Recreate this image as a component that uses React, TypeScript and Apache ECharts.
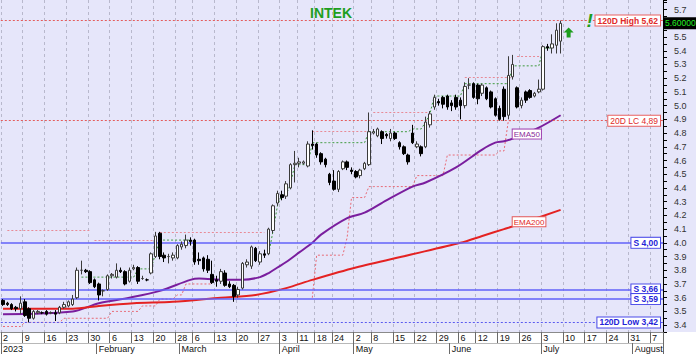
import React, { useEffect, useRef } from 'react';
import * as echarts from 'echarts';

// ---------- calendar ----------
const FIRST_DAY = '2023-01-02';
const LAST_DAY = '2023-08-09';
const CLOSED_DAYS = ['2023-02-27', '2023-04-07', '2023-04-10', '2023-04-17', '2023-05-01', '2023-06-05'];
const MONTH_NAMES = ['January', 'February', 'March', 'April', 'May', 'June', 'July', 'August', 'September', 'October', 'November', 'December'];
const YEAR_LABEL = '2023';
const TITLE = 'INTEK';

// ---------- prices: [open, close, low, high] per trading day ----------
const CANDLES: number[][] = [
  [3.58, 3.55, 3.54, 3.59], [3.56, 3.55, 3.54, 3.57], [3.55, 3.52, 3.51, 3.56], [3.53, 3.52, 3.50, 3.54], [3.52, 3.56, 3.48, 3.61],
  [3.57, 3.47, 3.46, 3.59], [3.52, 3.45, 3.42, 3.53], [3.45, 3.50, 3.44, 3.51], [3.49, 3.50, 3.48, 3.51], [3.49, 3.49, 3.48, 3.50],
  [3.50, 3.48, 3.47, 3.51], [3.49, 3.49, 3.48, 3.50], [3.49, 3.48, 3.43, 3.51], [3.49, 3.53, 3.48, 3.54], [3.53, 3.55, 3.52, 3.57],
  [3.54, 3.57, 3.53, 3.58], [3.55, 3.59, 3.54, 3.62], [3.60, 3.80, 3.59, 3.82], [3.80, 3.80, 3.77, 3.87], [3.80, 3.79, 3.78, 3.81],
  [3.79, 3.71, 3.70, 3.80], [3.73, 3.68, 3.67, 3.74], [3.70, 3.62, 3.58, 3.71], [3.65, 3.65, 3.61, 3.66], [3.66, 3.76, 3.65, 3.77],
  [3.76, 3.77, 3.74, 3.78], [3.75, 3.80, 3.74, 3.85], [3.80, 3.79, 3.78, 3.82], [3.79, 3.70, 3.69, 3.80], [3.72, 3.80, 3.71, 3.82],
  [3.81, 3.82, 3.80, 3.84], [3.82, 3.72, 3.70, 3.83], [3.74, 3.74, 3.73, 3.76], [3.73, 3.73, 3.72, 3.74], [3.78, 3.92, 3.77, 3.93],
  [3.90, 4.05, 3.89, 4.08], [4.07, 3.90, 3.88, 4.08], [3.91, 3.89, 3.86, 3.93], [3.90, 3.90, 3.85, 3.92], [3.89, 3.91, 3.87, 3.93],
  [3.89, 3.98, 3.88, 3.99], [3.97, 3.99, 3.95, 4.01], [3.98, 4.02, 3.96, 4.06], [4.02, 4.01, 3.98, 4.04],
  [4.02, 3.86, 3.84, 4.03], [3.88, 3.87, 3.84, 3.93], [3.89, 3.81, 3.79, 3.90], [3.88, 3.80, 3.78, 3.91], [3.77, 3.71, 3.70, 3.87],
  [3.73, 3.72, 3.68, 3.76], [3.72, 3.79, 3.70, 3.81], [3.78, 3.69, 3.68, 3.80], [3.70, 3.68, 3.67, 3.72], [3.69, 3.61, 3.57, 3.70],
  [3.62, 3.66, 3.60, 3.68], [3.67, 3.85, 3.66, 3.86], [3.84, 3.86, 3.82, 3.88], [3.83, 3.97, 3.81, 3.98], [3.96, 3.87, 3.86, 3.97],
  [3.86, 3.92, 3.84, 3.94], [3.92, 3.91, 3.89, 3.95], [3.92, 4.10, 3.91, 4.11], [4.09, 4.27, 4.07, 4.28], [4.29, 4.36, 4.27, 4.38],
  [4.35, 4.33, 4.31, 4.38], [4.34, 4.43, 4.32, 4.45], [4.40, 4.57, 4.39, 4.58], [4.57, 4.58, 4.44, 4.67],
  [4.58, 4.59, 4.55, 4.62], [4.58, 4.59, 4.57, 4.60], [4.56, 4.72, 4.55, 4.74], [4.72, 4.71, 4.68, 4.82],
  [4.72, 4.64, 4.62, 4.73], [4.65, 4.59, 4.57, 4.66], [4.61, 4.57, 4.55, 4.62], [4.50, 4.44, 4.42, 4.51],
  [4.45, 4.39, 4.38, 4.53], [4.39, 4.52, 4.37, 4.53], [4.54, 4.59, 4.53, 4.60], [4.59, 4.55, 4.53, 4.60], [4.53, 4.52, 4.50, 4.55],
  [4.52, 4.48, 4.47, 4.53], [4.49, 4.53, 4.47, 4.54], [4.54, 4.58, 4.53, 4.59], [4.57, 4.81, 4.56, 4.95],
  [4.80, 4.81, 4.79, 4.83], [4.78, 4.83, 4.77, 4.84], [4.81, 4.76, 4.72, 4.82], [4.79, 4.78, 4.76, 4.80], [4.76, 4.80, 4.74, 4.83],
  [4.80, 4.76, 4.75, 4.81], [4.73, 4.70, 4.68, 4.74], [4.70, 4.65, 4.64, 4.71], [4.64, 4.59, 4.57, 4.65], [4.80, 4.73, 4.72, 4.86],
  [4.70, 4.72, 4.69, 4.74], [4.70, 4.65, 4.63, 4.71], [4.70, 4.88, 4.69, 4.92], [4.86, 4.94, 4.84, 4.96], [4.99, 5.06, 4.97, 5.08],
  [5.03, 5.02, 5.00, 5.05], [5.06, 5.01, 4.98, 5.07], [5.07, 4.99, 4.97, 5.08], [5.02, 5.00, 4.96, 5.04], [5.06, 4.99, 4.97, 5.08],
  [5.04, 5.00, 4.90, 5.06], [5.00, 5.14, 4.98, 5.17], [5.15, 5.15, 5.12, 5.20], [5.16, 5.06, 5.05, 5.17],
  [5.15, 5.05, 5.01, 5.16], [5.09, 5.15, 5.07, 5.16], [5.13, 5.05, 5.04, 5.14], [5.10, 4.99, 4.98, 5.11], [5.05, 4.93, 4.92, 5.06],
  [4.98, 4.90, 4.89, 5.00], [5.12, 4.92, 4.89, 5.14], [4.93, 5.22, 4.90, 5.36], [5.21, 5.30, 5.19, 5.37], [5.13, 4.99, 4.98, 5.14],
  [5.00, 5.04, 4.98, 5.06], [5.10, 5.04, 5.02, 5.11], [5.11, 5.06, 5.05, 5.12], [5.07, 5.09, 5.06, 5.10], [5.10, 5.12, 5.09, 5.19],
  [5.12, 5.43, 5.11, 5.44], [5.43, 5.42, 5.40, 5.45], [5.42, 5.45, 5.38, 5.52], [5.44, 5.55, 5.38, 5.60], [5.47, 5.60, 5.38, 5.62],
];

// ---------- moving averages: [day index, value] ----------
const EMA50_POINTS: number[][] = [
  [0, 3.48], [16, 3.50], [22, 3.56], [29, 3.60], [36, 3.65], [43, 3.73], [45, 3.74], [51, 3.73], [55, 3.73], [59, 3.75],
  [61, 3.78], [63, 3.82], [65, 3.86], [68, 3.93], [71, 4.00], [73, 4.06], [79, 4.18], [83, 4.22], [88, 4.31], [94, 4.41],
  [97, 4.44], [104, 4.55], [110, 4.68], [113, 4.73], [115, 4.74], [117, 4.76], [123, 4.84], [128, 4.93],
];
const EMA200_POINTS: number[][] = [
  [0, 3.52], [16, 3.52], [22, 3.54], [30, 3.56], [39, 3.57], [50, 3.60], [58, 3.62], [65, 3.67], [71, 3.73], [81, 3.82],
  [93, 3.91], [105, 4.00], [110, 4.05], [115, 4.10], [117, 4.12], [128, 4.24],
];
const EMA_LABEL_INDEX = 117;

// ---------- trailing lines: [from index, to index, value] ----------
const TRAIL_STOP_SEGMENTS: number[][] = [
  [0, 4, 3.39], [5, 13, 3.42], [14, 24, 3.45], [25, 31, 3.50], [32, 35, 3.54], [36, 39, 3.59], [40, 41, 3.62], [42, 48, 3.70],
  [71, 71, 3.60], [72, 78, 3.91], [79, 79, 4.04], [80, 83, 4.33], [84, 94, 4.41], [95, 101, 4.49], [102, 113, 4.64],
  [114, 115, 4.67], [116, 117, 4.89],
];
const TRAIL_HIGH_SEGMENTS: number[][] = [
  [18, 30, 3.75], [31, 34, 3.81], [35, 35, 3.92], [36, 43, 4.02],
  [61, 61, 3.92], [62, 62, 4.09], [63, 63, 4.27], [64, 65, 4.35], [66, 66, 4.43], [67, 70, 4.57], [71, 83, 4.73],
  [84, 93, 4.81], [94, 96, 4.83], [97, 97, 4.88], [98, 98, 4.94], [99, 105, 5.07], [106, 116, 5.16], [117, 123, 5.29],
  [124, 126, 5.42],
];
const RESISTANCE_SEGMENTS: number[][] = [
  [1, 20, 4.09], [21, 35, 4.02], [36, 60, 4.08], [71, 84, 4.81], [85, 98, 4.95], [106, 117, 5.21], [118, 124, 5.36],
];

// ---------- horizontal levels ----------
const LEVEL_VALUES = [5.62, 4.89, 4.0, 3.66, 3.59, 3.42];
const LEVEL_LABELS = ['120D High 5,62', '20D LC 4,89', 'S 4,00', 'S 3,66', 'S 3,59', '120D Low 3,42'];
const LEVEL_KINDS = ['high', 'lc', 'support', 'support', 'support', 'low'];
const LAST_PRICE = 5.6;
const LAST_PRICE_TEXT = '5.60000';
const Y_MIN = 3.35;
const Y_MAX = 5.77;

const FONT = 'Liberation Sans, Arial, sans-serif';
const GREEN = '#1E9E1E';

const LEVEL_STYLE: Record<string, any> = {
  high: { line: '#E45C5C', type: [2, 2], width: 1, text: '#E02828', border: '#E86060', weight: 'bold' },
  lc: { line: '#E45C5C', type: [2, 2], width: 1, text: '#E02828', border: '#E86060', weight: 'normal' },
  support: { line: '#6262F8', type: 'solid', width: 1.5, text: '#2424D8', border: '#4848E8', weight: 'bold' },
  low: { line: '#5A5AF0', type: [2, 2], width: 1.2, text: '#2424D8', border: '#4848E8', weight: 'bold' },
};

function buildDays(): string[] {
  const out: string[] = [];
  const d = new Date(FIRST_DAY + 'T00:00:00Z');
  const end = new Date(LAST_DAY + 'T00:00:00Z');
  while (d.getTime() <= end.getTime()) {
    const wd = d.getUTCDay();
    const s = d.toISOString().slice(0, 10);
    if (wd !== 0 && wd !== 6 && CLOSED_DAYS.indexOf(s) < 0) out.push(s);
    d.setUTCDate(d.getUTCDate() + 1);
  }
  return out;
}

export default function App() {
  const ref = useRef<HTMLDivElement>(null);

  useEffect(() => {
    document.body.style.margin = '0';
    const el = ref.current;
    if (!el) return;
    const chart = echarts.init(el, undefined, { renderer: 'svg' });
    const days = buildDays();
    const N = days.length;
    const wd = days.map((d) => new Date(d + 'T00:00:00Z').getUTCDay());
    const weekStart = days.map((_, i) => i === 0 || wd[i] <= wd[i - 1]);
    const monthStart = days.map((d, i) => i === 0 || d.slice(5, 7) !== days[i - 1].slice(5, 7));

    const segArray = (segs: number[][]) => {
      const a: (number | null)[] = new Array(N).fill(null);
      segs.forEach(([s, e, v]) => {
        for (let i = s; i <= e; i++) a[i] = v;
      });
      return a;
    };
    const pts = (p: number[][]) => p.map(([i, v]) => [days[i], v]);

    const levelSeries = LEVEL_VALUES.map((v, k) => {
      const st = LEVEL_STYLE[LEVEL_KINDS[k]];
      return {
        type: 'line',
        name: LEVEL_LABELS[k],
        data: [],
        z: 2,
        markLine: {
          silent: true,
          symbol: ['none', 'none'],
          label: { show: false },
          animation: false,
          lineStyle: { color: st.line, type: st.type, width: st.width, opacity: 1 },
          data: [{ yAxis: v }],
        },
      };
    });
    const resData: any[] = RESISTANCE_SEGMENTS.map(([s, e, v]) => [{ coord: [days[s], v] }, { coord: [days[e], v] }]);

    const option: any = {
      animation: false,
      grid: { left: 0, right: 33, top: 0, bottom: 22 },
      xAxis: [
        {
          type: 'category',
          data: days,
          boundaryGap: true,
          position: 'bottom',
          axisLine: { show: true, lineStyle: { color: '#8A8A8A', width: 1 } },
          axisTick: { show: true, interval: (i: number) => weekStart[i], length: 11, lineStyle: { color: '#6A6A6A' } },
          axisLabel: {
            interval: (i: number) => weekStart[i],
            formatter: (v: string) => String(Number(v.slice(8, 10))),
            align: 'left',
            margin: 1,
            fontSize: 9,
            color: '#111',
            fontFamily: FONT,
          },
          splitLine: {
            show: true,
            interval: (i: number) => weekStart[i],
            lineStyle: { color: '#B8B8CC', type: [3, 3], width: 1 },
          },
        },
        {
          type: 'category',
          data: days,
          boundaryGap: true,
          position: 'bottom',
          offset: 11,
          axisLine: { show: true, lineStyle: { color: '#B8B8B8', width: 1 } },
          axisTick: { show: true, interval: (i: number) => monthStart[i], length: 11, lineStyle: { color: '#6A6A6A' } },
          axisLabel: {
            interval: (i: number) => monthStart[i],
            formatter: (v: string, i: number) => (i === 0 ? YEAR_LABEL : MONTH_NAMES[Number(v.slice(5, 7)) - 1]),
            align: 'left',
            margin: 1,
            fontSize: 9,
            color: '#111',
            fontFamily: FONT,
          },
          splitLine: { show: false },
        },
      ],
      yAxis: {
        type: 'value',
        position: 'right',
        min: Y_MIN,
        max: Y_MAX,
        interval: 0.05,
        axisLine: { show: true, lineStyle: { color: '#000' } },
        axisTick: { show: true, length: 4, lineStyle: { color: '#000' } },
        axisLabel: {
          formatter: (v: number) => {
            const k = Math.round(v * 100);
            if (k % 10 !== 0 || k === Math.round(LAST_PRICE * 100)) return '';
            return v.toFixed(1);
          },
          margin: 11,
          fontSize: 9,
          color: '#333',
          fontFamily: FONT,
        },
        splitLine: { show: false },
      },
      series: [
        ...levelSeries,
        {
          type: 'line',
          name: 'Resistance',
          data: [],
          z: 2,
          markLine: {
            silent: true,
            symbol: ['none', 'none'],
            label: { show: false },
            animation: false,
            lineStyle: { color: '#E88A96', type: [2, 2], width: 1, opacity: 1 },
            data: resData,
          },
        },
        {
          type: 'candlestick',
          name: TITLE,
          data: CANDLES,
          barWidth: 3,
          z: 5,
          itemStyle: { color: '#FFFFFF', color0: '#000000', borderColor: '#3A3A3A', borderColor0: '#000000', borderWidth: 1 },
        },
        {
          type: 'line',
          name: 'TrailStop',
          data: segArray(TRAIL_STOP_SEGMENTS),
          showSymbol: false,
          connectNulls: false,
          lineStyle: { color: '#E86A76', width: 1, type: [2, 2] },
          z: 3,
        },
        {
          type: 'line',
          name: 'TrailHigh',
          data: segArray(TRAIL_HIGH_SEGMENTS),
          showSymbol: false,
          connectNulls: false,
          lineStyle: { color: '#3E9A3E', width: 1, type: [2, 2] },
          z: 3,
        },
        {
          type: 'line',
          name: 'EMA50',
          data: pts(EMA50_POINTS),
          showSymbol: false,
          smooth: 0.3,
          lineStyle: { color: '#7A1E9E', width: 2 },
          z: 4,
        },
        {
          type: 'line',
          name: 'EMA200',
          data: pts(EMA200_POINTS),
          showSymbol: false,
          smooth: 0.3,
          lineStyle: { color: '#E42222', width: 2 },
          z: 4,
        },
      ],
    };
    chart.setOption(option);

    const px = (i: number) => chart.convertToPixel({ xAxisIndex: 0 }, days[i]) as unknown as number;
    const py = (v: number) => chart.convertToPixel({ yAxisIndex: 0 }, v) as unknown as number;
    const emaAt = (p: number[][], idx: number) => {
      const f = p.find((q) => q[0] === idx);
      return f ? f[1] : p[p.length - 1][1];
    };
    const lastIdx = CANDLES.length - 1;
    const graphics: any[] = [];
    graphics.push({
      type: 'text', x: 331, y: 13, z: 100,
      style: { text: TITLE, fill: GREEN, fontSize: 14, fontWeight: 'bold', fontFamily: FONT, align: 'center', verticalAlign: 'middle' },
    });
    LEVEL_VALUES.forEach((v, k) => {
      const st = LEVEL_STYLE[LEVEL_KINDS[k]];
      graphics.push({
        type: 'text', x: 660, y: py(v), z: 100,
        style: {
          text: LEVEL_LABELS[k], fill: st.text, fontSize: 8.5, fontWeight: st.weight, fontFamily: FONT,
          align: 'right', verticalAlign: 'middle', backgroundColor: '#FFFFFF', borderColor: st.border, borderWidth: 1,
          padding: [1, 2, 0, 2],
        },
      });
    });
    const emaLabels = [
      { text: 'EMA50', v: emaAt(EMA50_POINTS, EMA_LABEL_INDEX), fill: '#8A2A9A', border: '#A040B0' },
      { text: 'EMA200', v: emaAt(EMA200_POINTS, EMA_LABEL_INDEX), fill: '#E02828', border: '#E45858' },
    ];
    emaLabels.forEach((e) => {
      graphics.push({
        type: 'text', x: px(EMA_LABEL_INDEX), y: py(e.v), z: 100,
        style: {
          text: e.text, fill: e.fill, fontSize: 8, fontFamily: FONT, align: 'left', verticalAlign: 'bottom',
          backgroundColor: '#FFFFFF', borderColor: e.border, borderWidth: 1, padding: [1, 1, 0, 1],
        },
      });
    });
    graphics.push({
      type: 'text', x: 664, y: py(LAST_PRICE), z: 100,
      style: {
        text: LAST_PRICE_TEXT, fill: '#22EE22', fontSize: 8.5, fontFamily: FONT, align: 'left', verticalAlign: 'middle',
        backgroundColor: '#000000', padding: [2, 1, 1, 1],
      },
    });
    graphics.push({
      type: 'polygon', x: px(lastIdx) + 8, y: py(LEVEL_VALUES[0]) + 7, z: 100,
      shape: { points: [[0, 0], [5, 5], [2, 5], [2, 10], [-2, 10], [-2, 5], [-5, 5]] },
      style: { fill: GREEN },
    });
    graphics.push({
      type: 'text', x: px(lastIdx) + 29, y: py(LEVEL_VALUES[0]), z: 100,
      style: { text: '!', fill: GREEN, fontSize: 19, fontWeight: 'bold', fontStyle: 'italic', fontFamily: FONT, align: 'center', verticalAlign: 'middle' },
    });
    chart.setOption({ graphic: graphics });

    return () => chart.dispose();
  }, []);

  return (
    <div
      ref={ref}
      style={{
        width: 696,
        height: 354,
        background: 'linear-gradient(to bottom, #E6E6FA 0px, #E6E6FA 332px, #FFFFFF 332px, #FFFFFF 354px)',
      }}
    />
  );
}
